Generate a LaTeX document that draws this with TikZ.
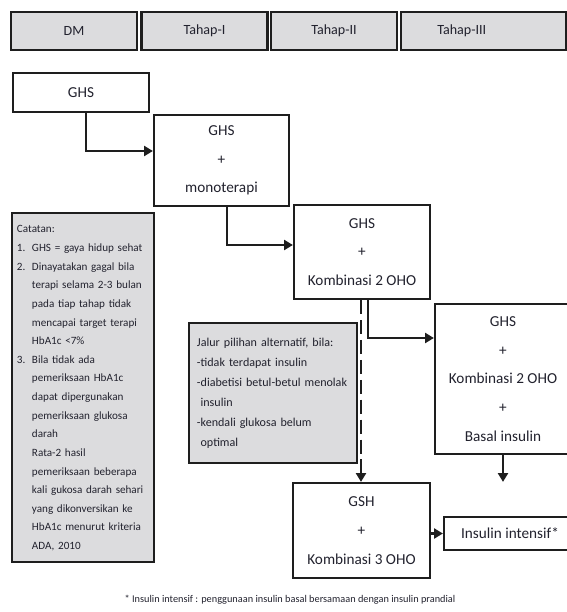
\documentclass[tikz,border=0pt]{standalone}
\usepackage{fontspec}
\setmainfont{Carlito}
\usetikzlibrary{arrows.meta}
\definecolor{InkGray}{HTML}{22222E}
\definecolor{PanelGray}{HTML}{DCDCDE}
\definecolor{EdgeBlack}{HTML}{1E1E1E}
\tikzset{
  hdr/.style={draw=EdgeBlack, line width=2.4pt, fill=PanelGray, minimum width=3.78cm, minimum height=1.14cm,
    text=InkGray, font=\fontsize{12pt}{14pt}\selectfont, inner sep=0pt},
  stagebox/.style={draw=EdgeBlack, line width=1.9pt, fill=white, text=InkGray, align=center,
    font=\fontsize{13pt}{24.5pt}\selectfont, inner sep=0pt},
  notebox/.style={draw=EdgeBlack, line width=2.4pt, fill=PanelGray, text=InkGray, align=left, inner sep=0pt},
  arr/.style={EdgeBlack, line width=2.5pt, -{Triangle[length=7.5pt,width=8.5pt]}},
  altline/.style={EdgeBlack, line width=2.5pt, dash pattern=on 12pt off 5pt, -{Triangle[length=7.5pt,width=8.5pt]}}
}
\begin{document}
\begin{tikzpicture}[x=0.03cm, y=-0.03cm]
    \useasboundingbox (0,0) rectangle (567,612);

    % Header row
    \node[hdr] (hDM) at (74,31) {DM};
    \node[hdr] (hTahapI) at (204.5,31) {Tahap-I};
    \node[hdr] (hTahapII) at (334,31) {Tahap-II};
    \node[hdr, minimum width=4.95cm] (hTahapIII) at (483.5,31) {\hspace*{-1.3cm}Tahap-III};

    % Therapy stages
    \node[stagebox, minimum width=4.08cm, minimum height=1.17cm] (ghs) at (81,92.5) {GHS};
    \node[stagebox, minimum width=4.05cm, minimum height=2.73cm] (mono) at (221.5,160.5) {GHS\\+\\monoterapi};
    \node[stagebox, minimum width=4.08cm, minimum height=2.82cm] (kombi2) at (362,252) {GHS\\+\\Kombinasi 2 OHO};
    \node[stagebox, minimum width=4.08cm, minimum height=4.5cm] (basal) at (503,379) {GHS\\+\\Kombinasi 2 OHO\\+\\Basal insulin};
    \node[stagebox, minimum width=4.11cm, minimum height=2.85cm] (gsh) at (361.5,530.5) {GSH\\+\\Kombinasi 3 OHO};
    \node[stagebox, minimum width=3.96cm, minimum height=0.99cm] (intensif) at (510,533.5) {Insulin intensif*};

    % Notes
    \node[notebox, minimum width=4.26cm, minimum height=10.47cm, inner xsep=0.15cm, text width=3.96cm,
      font=\fontsize{9.5pt}{15.9pt}\selectfont] (catatan) at (83,387.5) {%
      \begin{tabular}{@{}p{0.45cm}@{}l@{}}
        \multicolumn{2}{@{}l@{}}{Catatan:}\\
        1. & GHS = gaya hidup sehat\\
        2. & Dinayatakan gagal bila\\
           & terapi selama 2-3 bulan\\
           & pada tiap tahap tidak\\
           & mencapai target terapi\\
           & HbA1c <7\%\\
        3. & Bila tidak ada\\
           & pemeriksaan HbA1c\\
           & dapat dipergunakan\\
           & pemeriksaan glukosa\\
           & darah\\
           & Rata-2 hasil\\
           & pemeriksaan beberapa\\
           & kali gukosa darah sehari\\
           & yang dikonversikan ke\\
           & HbA1c menurut kriteria\\
           & ADA, 2010
      \end{tabular}};
    \node[notebox, minimum width=5.04cm, minimum height=4.2cm, inner xsep=0.24cm, text width=4.56cm,
      font=\fontsize{10.3pt}{17pt}\selectfont] (jalur) at (273,393) {Jalur pilihan alternatif, bila:\\-tidak terdapat insulin\\-diabetisi betul-betul menolak\\\hspace*{0.3em}insulin\\-kendali glukosa belum\\\hspace*{0.3em}optimal};

    % Connectors
    \draw[arr] ([xshift=0.15cm]ghs.south) |- ([yshift=0.285cm]mono.west);
    \draw[arr] ([xshift=0.165cm]mono.south) |- ([yshift=0.21cm]kombi2.west);
    \draw[arr] ([xshift=0.18cm]kombi2.south) |- ([yshift=1.23cm]basal.west);
    \draw[altline] ([xshift=-0.03cm]kombi2.south) -- ([xshift=-0.03cm]kombi2.south |- gsh.north);
    \draw[arr] (basal.south) -- (basal.south |- gsh.north);
    \draw[arr] (gsh.east |- intensif.west) -- (intensif.west);

    \node[text=InkGray, font=\fontsize{8.8pt}{10pt}\selectfont] (footnote) at (290,600) {* Insulin intensif : penggunaan insulin basal bersamaan dengan insulin prandial};
\end{tikzpicture}
\end{document}
